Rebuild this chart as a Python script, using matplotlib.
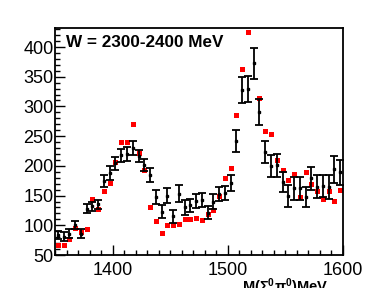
import numpy as np
import matplotlib
matplotlib.use('Agg')
import matplotlib.pyplot as plt

# Fonts: Helvetica-like look
plt.rcParams['font.family'] = ['Liberation Sans', 'DejaVu Sans']
plt.rcParams['mathtext.fontset'] = 'custom'
plt.rcParams['mathtext.rm'] = 'Liberation Sans'
plt.rcParams['mathtext.bf'] = 'Liberation Sans:bold'
plt.rcParams['mathtext.it'] = 'Liberation Sans:italic'

# Bin centres of the invariant mass (MeV), 5 MeV bins
mass = np.arange(1352.5, 1600, 5.0)

# Measured counts (black points) and their errors
counts = [84, 81, 86, 100, 86, 128, 132, 135, 174, 188,
          204, 218, 220, 230, 216, 201, 185, 148, 123, 150,
          115, 153, 130, 134, 141, 142, 121, 140, 153, 154,
          171, 242, 327, 329, 373, 290, 223, 200, 201, 173,
          149, 162, 162, 147, 179, 165, 166, 165, 194, 189]
errors = [7, 7, 7, 7, 7, 8, 8, 8, 10, 11,
          11, 11, 12, 12, 10, 10, 12, 12, 11, 12,
          11, 14, 13, 11, 12, 12, 11, 12, 12, 12,
          13, 18, 22, 22, 26, 22, 19, 18, 19, 17,
          18, 19, 20, 17, 19, 19, 19, 20, 22, 21]

# Model values (red squares), one bin has no entry
model = [66, 66, 77, 95, 88, 93, 144, 128, 157, 172,
         207, 241, 241, 270, 221, 193, 131, 108, 87, 101,
         101, 102, 111, 111, 113, 109, 119, 125, 149, 179,
         196, 286, 363, 425, np.nan, 315, 259, 254, 210, 193,
         177, 186, 147, 190, 169, 157, 144, 158, 141, 159]

fig = plt.figure(figsize=(3.69, 2.88), dpi=100)
ax = fig.add_axes([55 / 369, 33 / 288, 288 / 369, 227 / 288])

# Data with error bars
ax.errorbar(mass, counts, yerr=errors, fmt='s', color='black', ms=2,
            elinewidth=1.3, capsize=3, capthick=1.3, zorder=3)

# Red squares
ax.plot(mass, model, 's', color='red', ms=3.6, mew=0, zorder=2)

ax.set_xlim(1350, 1600)
ax.set_ylim(50, 432)

# ROOT-like ticks: inward, left and bottom only
ax.set_xticks([1400, 1500, 1600])
ax.set_xticks(np.arange(1350, 1601, 10), minor=True)
ax.set_yticks(np.arange(50, 401, 50))
ax.set_yticks(np.arange(50, 431, 10), minor=True)
ax.tick_params(which='both', direction='in', top=False, right=False,
               labelsize=13, width=1)
ax.tick_params(which='major', length=7)
ax.tick_params(which='minor', length=3.5)
ax.tick_params(axis='y', pad=1)
ax.tick_params(axis='x', pad=5)

for s in ax.spines.values():
    s.set_linewidth(1.3)

# Title text inside the frame
ax.text(0.038, 0.916, 'W = 2300-2400 MeV', transform=ax.transAxes,
        fontsize=12.3, fontweight='bold', va='baseline', ha='left')

# Axis title at the lower right, between the 1500 and 1600 labels
fig.text(285 / 369, 12 / 288, r'$\mathbf{M(\Sigma^{0}\pi^{0})MeV}$',
         fontsize=10.5, ha='center', va='top')

plt.savefig('out.png', dpi=100)
